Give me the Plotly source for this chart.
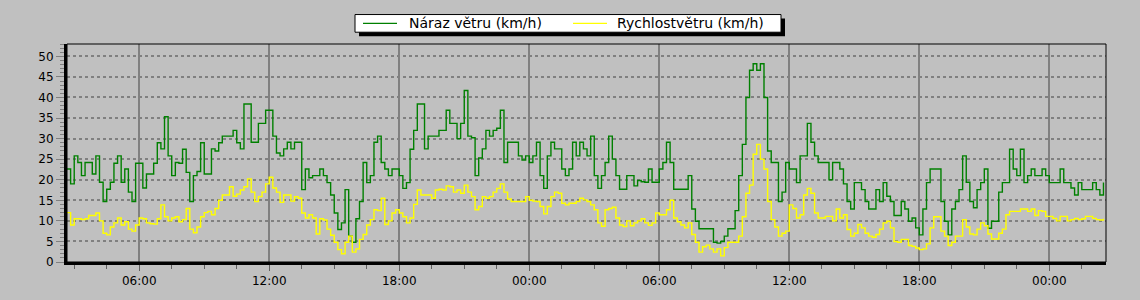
import plotly.graph_objects as go
import pandas as pd

# ---- data (10-minute samples starting 02:40) ----
START = "2024-03-01 02:40"
STEP = "10min"
X_START = "2024-03-01 02:40"
X_END = "2024-03-03 02:37"

naraz = [
    22.6, 19.0, 25.8, 24.2, 21.0, 24.2, 24.2, 21.4, 25.8, 19.4,
    14.7, 17.7, 19.4, 24.0, 25.8, 19.4, 22.6, 17.0, 14.7, 24.0,
    24.0, 18.0, 21.4, 21.4, 24.0, 29.0, 27.5, 35.3, 25.8, 21.0,
    24.2, 24.0, 27.4, 21.8, 14.7, 21.0, 22.0, 29.0, 21.4, 21.4,
    27.5, 27.0, 29.0, 30.6, 30.6, 30.6, 32.0, 29.0, 27.5,
    38.4, 38.4, 29.1, 29.1, 33.7, 33.7, 36.9, 36.9, 30.6, 26.5,
    25.8, 27.5, 29.1, 27.5, 29.1, 29.1, 17.6, 22.6, 20.5, 21.0,
    21.0, 22.6, 21.0, 19.3, 16.3, 11.9, 7.9, 9.5, 17.6, 6.3,
    4.8, 10.5, 14.7, 24.2, 19.3, 21.0, 29.1, 30.6, 24.2, 22.6,
    21.0, 22.6, 22.6, 21.0, 17.9, 19.3, 27.4, 32.0,
    38.4, 38.4, 27.5, 30.6, 30.6, 30.6, 32.0, 32.0, 36.9, 33.7,
    33.7, 30.0, 33.7, 41.7, 30.6, 30.2, 21.0, 25.3, 27.5, 32.0,
    30.6, 32.0, 32.5, 36.9, 24.2, 29.1, 29.1, 29.1, 25.8, 24.8,
    25.8, 24.2, 25.8, 29.1, 21.0, 17.9, 25.8, 29.1, 27.5, 27.5,
    22.6, 21.0, 22.6, 29.1, 25.8, 29.1, 27.5, 25.8,
    30.6, 21.0, 17.9, 21.0, 24.2, 30.6, 25.0, 21.0, 17.7, 17.7,
    21.0, 21.0, 18.5, 19.8, 19.5, 19.4, 22.6, 19.4, 19.4, 22.6,
    24.2, 29.1, 24.2, 17.7, 17.7, 17.7, 17.7, 21.0, 12.9, 9.9,
    8.1, 8.1, 8.1, 8.1, 4.8, 4.6, 5.0, 6.3, 8.1, 8.1,
    12.5, 21.0, 28.6, 40.0, 46.6, 48.2, 46.6, 48.2,
    40.0, 27.0, 24.2, 24.2, 14.7, 17.0, 24.2, 22.6, 22.6, 19.3,
    25.8, 25.8, 33.7, 29.1, 25.8, 24.2, 24.2, 24.2, 20.0, 24.2,
    24.2, 22.6, 19.0, 14.7, 12.9, 19.3, 19.3, 17.6, 14.7, 12.9,
    12.9, 17.6, 14.7, 19.3, 16.0, 14.7, 11.3, 11.3, 14.7, 12.9,
    9.9, 10.7, 8.3, 6.6, 12.9, 19.3, 22.6, 22.6,
    22.6, 14.7, 9.9, 6.6, 12.9, 14.7, 17.6, 25.8, 19.4, 14.7,
    13.2, 17.6, 19.3, 22.6, 8.2, 9.9, 9.9, 17.0, 19.3, 19.3,
    27.4, 22.6, 21.0, 27.4, 19.3, 21.0, 22.6, 21.0, 21.0, 22.6,
    21.0, 19.3, 19.3, 19.3, 22.6, 19.3, 19.3, 18.0, 16.3, 19.3,
    17.6, 17.6, 17.6, 19.3, 17.6, 16.3, 19.3,
]

rychlost = [
    12.0, 9.0, 10.5, 10.5, 10.3, 10.5, 11.3, 11.3, 11.9, 10.0,
    7.0, 6.6, 8.5, 9.5, 10.7, 9.0, 9.8, 8.0, 7.5, 9.0,
    10.7, 10.5, 9.5, 9.3, 9.2, 10.5, 13.9, 11.0, 10.0, 10.7,
    11.0, 9.8, 10.3, 13.0, 8.0, 7.1, 8.5, 11.0, 12.0, 12.3,
    11.5, 13.0, 15.0, 16.3, 16.3, 18.3, 16.0, 16.5, 17.5,
    18.3, 20.2, 17.0, 14.7, 15.9, 17.0, 19.0, 20.6, 18.0, 17.0,
    14.5, 16.3, 16.3, 14.8, 15.9, 15.5, 11.9, 10.7, 11.5, 10.7,
    6.8, 10.5, 10.2, 8.0, 6.5, 4.8, 3.0, 2.0, 4.8, 6.3,
    2.4, 3.2, 5.5, 6.7, 9.0, 10.3, 12.7, 12.5, 15.5, 9.1,
    10.0, 11.9, 12.7, 11.9, 11.0, 9.5, 10.7, 14.0,
    17.5, 16.3, 16.3, 16.3, 15.5, 17.5, 17.7, 17.5, 18.5, 18.3,
    17.0, 17.5, 16.7, 18.7, 17.0, 15.9, 12.7, 13.5, 15.9, 15.5,
    15.9, 17.0, 17.9, 19.0, 17.0, 15.3, 14.7, 14.7, 14.7, 14.7,
    15.9, 15.0, 14.8, 14.7, 13.5, 11.7, 13.5, 15.9, 17.0, 16.7,
    14.3, 13.9, 14.3, 14.3, 14.7, 15.5, 15.1, 14.7,
    13.9, 12.7, 9.5, 8.7, 12.7, 13.0, 13.3, 10.7, 9.0, 8.6,
    10.0, 8.8, 9.5, 10.0, 10.5, 9.5, 8.9, 9.5, 11.9, 11.5,
    11.5, 12.7, 15.0, 10.7, 9.8, 9.0, 8.3, 9.5, 6.7, 4.8,
    2.4, 3.7, 4.1, 3.2, 2.4, 3.2, 1.5, 3.5, 4.8, 4.8,
    4.8, 6.3, 11.0, 16.7, 18.7, 26.2, 28.6, 25.0,
    22.6, 14.7, 10.3, 8.5, 6.3, 7.0, 7.5, 13.9, 13.0, 10.7,
    11.5, 16.3, 17.9, 16.7, 11.9, 10.7, 10.7, 11.1, 11.1, 10.0,
    12.9, 10.7, 11.5, 7.9, 6.3, 7.0, 9.1, 8.3, 7.0, 6.3,
    6.0, 6.7, 8.0, 9.5, 9.9, 8.3, 5.0, 4.8, 5.5, 5.5,
    4.0, 3.8, 3.4, 3.0, 3.2, 4.4, 8.3, 11.0,
    11.0, 7.5, 6.3, 4.0, 4.8, 6.3, 6.3, 10.3, 8.5, 6.8,
    6.6, 8.0, 9.5, 8.8, 6.8, 5.6, 5.6, 7.0, 8.0, 11.5,
    12.3, 12.3, 12.3, 12.9, 12.9, 12.3, 12.9, 11.3, 12.5, 12.3,
    11.1, 11.1, 10.6, 10.0, 11.1, 11.1, 10.0, 10.3, 10.6, 10.3,
    10.5, 11.1, 11.1, 10.6, 10.3, 10.2, 10.5,
]

NAME_G = "Náraz větru (km/h)"
NAME_Y = "Rychlostvětru (km/h)"
COL_G = "#008000"
COL_Y = "#FFFF00"

times = pd.date_range(START, periods=len(naraz), freq=STEP)

W, H = 1140, 300
ML, MR, MT, MB = 67, 34, 44, 34
PW, PH = W - ML - MR, H - MT - MB


def px_x(p):
    return (p - ML) / PW


def px_y(p):
    return (H - MB - p) / PH


fig = go.Figure()
fig.add_trace(go.Scatter(x=times, y=naraz, mode="lines", name=NAME_G,
                         line=dict(color=COL_G, width=1.4, shape="hv")))
fig.add_trace(go.Scatter(x=times, y=rychlost, mode="lines", name=NAME_Y,
                         line=dict(color=COL_Y, width=1.4, shape="hv")))

# legend box drawn in pixel-derived paper coordinates (boxed legend with drop shadow)
LEG_L, LEG_R, LEG_T, LEG_B, SH = 355, 781, 14, 32, 4
LEG_MID = (LEG_T + LEG_B) / 2
shapes = [
    dict(type="rect", xref="paper", yref="paper", x0=px_x(LEG_L + SH), x1=px_x(LEG_R + SH),
         y0=px_y(LEG_B + SH), y1=px_y(LEG_T + SH), fillcolor="black", line=dict(width=0),
         layer="above"),
    dict(type="rect", xref="paper", yref="paper", x0=px_x(LEG_L), x1=px_x(LEG_R),
         y0=px_y(LEG_B), y1=px_y(LEG_T), fillcolor="white", line=dict(color="black", width=1),
         layer="above"),
    dict(type="line", xref="paper", yref="paper", x0=px_x(363), x1=px_x(397),
         y0=px_y(LEG_MID), y1=px_y(LEG_MID), line=dict(color=COL_G, width=1.4), layer="above"),
    dict(type="line", xref="paper", yref="paper", x0=px_x(573), x1=px_x(607),
         y0=px_y(LEG_MID), y1=px_y(LEG_MID), line=dict(color=COL_Y, width=1.4), layer="above"),
    dict(type="rect", xref="paper", yref="paper", x0=0, x1=1, y0=0, y1=1,
         line=dict(color="black", width=1), layer="above"),
]
annotations = [
    dict(xref="paper", yref="paper", x=px_x(407), y=px_y(LEG_MID), text=NAME_G,
         showarrow=False, xanchor="left", yanchor="middle",
         font=dict(family="DejaVu Sans", size=14, color="black")),
    dict(xref="paper", yref="paper", x=px_x(615), y=px_y(LEG_MID), text=NAME_Y,
         showarrow=False, xanchor="left", yanchor="middle",
         font=dict(family="DejaVu Sans", size=14, color="black")),
]

fig.update_layout(
    width=W, height=H,
    margin=dict(l=ML, r=MR, t=MT, b=MB),
    paper_bgcolor="#C0C0C0", plot_bgcolor="#C0C0C0",
    font=dict(family="DejaVu Sans", size=12, color="black"),
    showlegend=False,
    shapes=shapes,
    annotations=annotations,
)

fig.update_xaxes(
    type="date", range=[X_START, X_END],
    tickformat="%H:%M", dtick=6 * 3600 * 1000, tick0="2024-03-01 00:00",
    showgrid=True, gridcolor="#808080", gridwidth=2,
    ticks="outside", ticklen=6, tickcolor="#606060", tickwidth=1,
    showline=True, linecolor="black", linewidth=3, mirror=False,
    minor=dict(dtick=90 * 60 * 1000, tick0="2024-03-01 00:00", ticks="outside",
               ticklen=4, tickcolor="#606060", showgrid=False),
    fixedrange=True,
)
fig.update_yaxes(
    range=[0, 53], dtick=5, tick0=0,
    showgrid=True, gridcolor="#808080", gridwidth=2, griddash="dot",
    ticks="outside", ticklen=8, tickcolor="#808080", tickwidth=1,
    minor=dict(dtick=1, ticks="outside", ticklen=4, tickcolor="#808080", showgrid=False),
    showline=True, linecolor="black", linewidth=3, mirror=False,
    zeroline=False, fixedrange=True,
)

fig.write_html("out.html")
